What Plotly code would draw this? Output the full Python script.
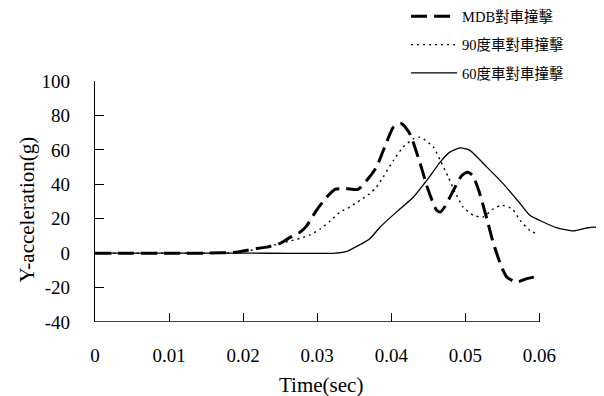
import plotly.graph_objects as go

# ---- data ----
series_names = ["MDB對車撞擊", "90度車對車撞擊", "60度車對車撞擊"]

t_mdb = [0, 0.005, 0.010, 0.015, 0.0190, 0.0200, 0.0220, 0.0232, 0.0250, 0.0261, 0.0277,
         0.0286, 0.0299, 0.0313, 0.0324, 0.0338, 0.0355, 0.0367, 0.0380, 0.0392, 0.0403,
         0.0414, 0.0425, 0.0439, 0.0450, 0.0461, 0.0466, 0.0472, 0.0484, 0.0495, 0.0503,
         0.0510, 0.0518, 0.0529, 0.0538, 0.0549, 0.0556, 0.0569, 0.0583, 0.0600]
y_mdb = [0, 0, 0, 0, 0.5, 1.2, 2.8, 3.5, 5.7, 8.6, 12.2,
         16.0, 24.9, 32.6, 37.0, 37.6, 37.0, 42.3, 50.0, 62.6, 73.3,
         75.2, 69.4, 52.0, 36.5, 25.0, 23.9, 26.8, 36.5, 45.0, 47.0,
         45.0, 36.5, 20.0, 5.5, -8.1, -13.9, -16.8, -14.8, -13.3]

t_90 = [0, 0.005, 0.010, 0.015, 0.0195, 0.0209, 0.0230, 0.0250, 0.0263, 0.0277, 0.0290,
        0.0304, 0.0317, 0.0331, 0.0344, 0.0358, 0.0371, 0.0380, 0.0389, 0.0403, 0.0416,
        0.0430, 0.0437, 0.0443, 0.0457, 0.0466, 0.0477, 0.0486, 0.0497, 0.0511, 0.0524,
        0.0538, 0.0549, 0.0563, 0.0574, 0.0587, 0.0596]
y_90 = [0, 0, 0, 0, 0.3, 1.5, 3.5, 5.5, 7.0, 8.6, 10.5,
        14.0, 18.5, 23.9, 26.8, 30.7, 34.6, 38.4, 44.2, 53.9, 61.6,
        66.5, 67.4, 66.5, 61.6, 53.9, 44.2, 35.5, 26.8, 22.0, 21.0,
        25.8, 27.8, 25.8, 19.0, 13.2, 11.3]

t_60 = [0, 0.010, 0.020, 0.0325, 0.0340, 0.0353, 0.0371, 0.0385, 0.0407, 0.0430, 0.0448,
        0.0466, 0.0479, 0.0493, 0.0506, 0.0529, 0.0551, 0.0574, 0.0587, 0.0605, 0.0623,
        0.0646, 0.0664, 0.0682, 0.0690]
y_60 = [0, 0, 0, 0, 1.0, 3.8, 8.4, 15.2, 23.9, 32.6, 42.3,
        52.9, 58.7, 61.1, 59.7, 50.0, 40.4, 28.8, 22.0, 18.1, 14.8,
        12.9, 14.6, 15.2, 15.2]

x_ticks = [0, 0.01, 0.02, 0.03, 0.04, 0.05, 0.06]
x_ticktext = ["0", "0.01", "0.02", "0.03", "0.04", "0.05", "0.06"]
y_ticks = [-40, -20, 0, 20, 40, 60, 80, 100]
y_ticktext = ["-40", "-20", "0", "20", "40", "60", "80", "100"]
x_title = "Time(sec)"
y_title = "Y-acceleration(g)"

SERIF = "Liberation Serif, Times New Roman, Noto Sans CJK TC, serif"

fig = go.Figure()
fig.add_trace(go.Scatter(x=t_mdb, y=y_mdb, mode="lines", name=series_names[0], legendgroup="a",
                         line=dict(color="black", width=3, dash="16px,7px", shape="spline", smoothing=0.6)))
fig.add_trace(go.Scatter(x=t_90, y=y_90, mode="lines", name=series_names[1], legendgroup="b",
                         line=dict(color="black", width=1.4, dash="2px,4px", shape="spline", smoothing=0.6)))
fig.add_trace(go.Scatter(x=t_60, y=y_60, mode="lines", name=series_names[2], legendgroup="c",
                         line=dict(color="black", width=1.3, shape="spline", smoothing=0.6)))

# page shows the figure offset by the default 8px body margin; compensate
OFF = 8
W, H = 604, 396
left_px, top_px, right_px, bottom_px = 94.8, 80.7, 604, 321.7   # wanted plot box in window pixels
ml = left_px - OFF
mt = top_px - OFF
mr = W - (right_px - OFF)
mb = H - (bottom_px - OFF)
plot_w = W - ml - mr
plot_h = H - mt - mb
xmax = (right_px - left_px) / 7410.0

def px_x(px):
    return (px - left_px) / plot_w

def px_y(py):
    return (bottom_px - py) / plot_h

fig.update_layout(
    width=W, height=H,
    margin=dict(l=ml, r=mr, t=mt, b=mb, autoexpand=False),
    paper_bgcolor="white", plot_bgcolor="white",
    font=dict(family=SERIF, color="black", size=19),
    showlegend=True,
    legend=dict(x=px_x(406), y=px_y(0), xanchor="left", yanchor="top",
                font=dict(family=SERIF, size=14.5, color="black"), tracegroupgap=6.5,
                itemwidth=46, bgcolor="rgba(0,0,0,0)", borderwidth=0),
    xaxis=dict(range=[0, xmax], tickvals=x_ticks, ticktext=x_ticktext, showgrid=False, zeroline=False,
               showline=False, ticks="inside", ticklen=9, tickwidth=1, tickcolor="black",
               ticklabelstandoff=20, tickfont=dict(size=19, family=SERIF)),
    yaxis=dict(range=[-40, 100], tickvals=y_ticks, ticktext=y_ticktext, showgrid=False, zeroline=False,
               showline=True, linecolor="black", linewidth=1.3, ticks="inside", ticklen=9,
               tickwidth=1, tickcolor="black", ticklabelstandoff=20, tickfont=dict(size=19, family=SERIF)),
)

# x-axis line spans only 0 .. 0.06 as in the reference
fig.add_shape(type="line", xref="x", yref="y", x0=x_ticks[0], x1=x_ticks[-1], y0=-40, y1=-40,
              line=dict(color="black", width=1.3))

fig.add_annotation(text=x_title, xref="x", yref="paper", x=0.0305, y=px_y(385),
                   showarrow=False, xanchor="center", yanchor="middle", font=dict(size=21, family=SERIF))
fig.add_annotation(text=y_title, xref="paper", yref="paper", x=px_x(27), y=px_y(209), textangle=-90,
                   showarrow=False, xanchor="center", yanchor="middle", font=dict(size=21, family=SERIF))

fig.write_html("out.html")
